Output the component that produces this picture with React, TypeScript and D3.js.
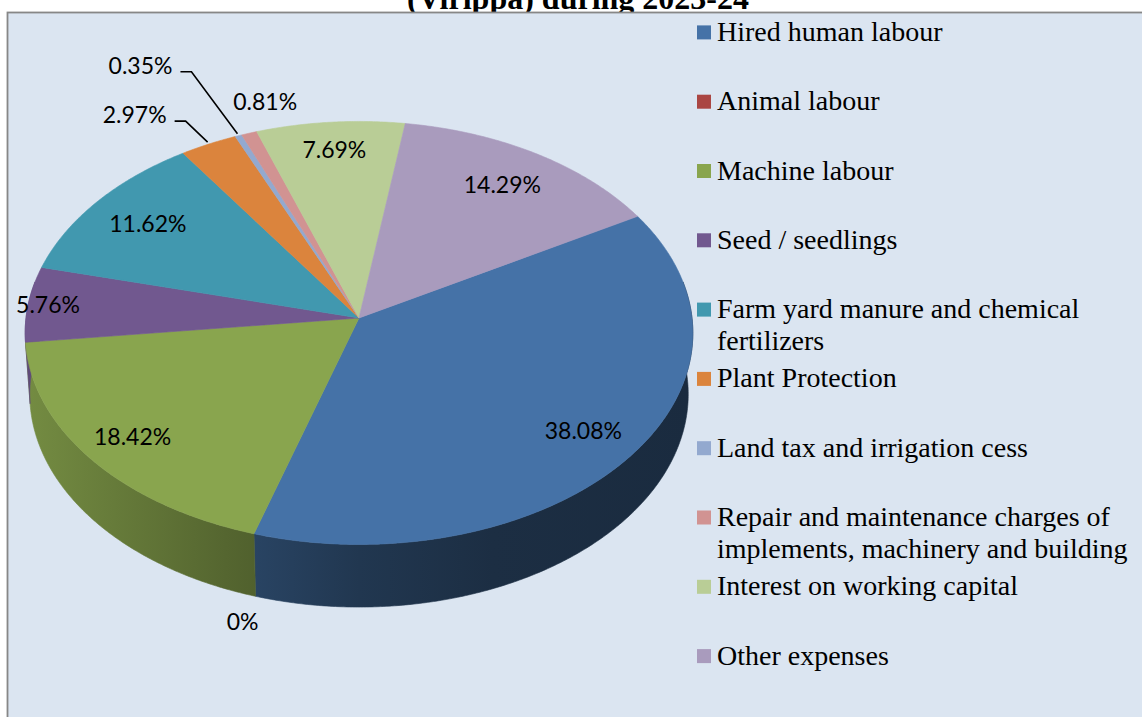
import React from 'react';
import * as d3 from 'd3';

// ---------- DATA ----------
const categories: string[] = [
  'Hired human labour',
  'Animal labour',
  'Machine labour',
  'Seed / seedlings',
  'Farm yard manure and chemical fertilizers',
  'Plant Protection',
  'Land tax and irrigation cess',
  'Repair and maintenance charges of implements, machinery and building',
  'Interest on working capital',
  'Other expenses',
];
const values: number[] = [38.08, 0, 18.42, 5.76, 11.62, 2.97, 0.35, 0.81, 7.69, 14.29];
const colors: string[] = [
  '#4572A7', '#AA4643', '#89A54E', '#71588F', '#4198AF',
  '#DB843D', '#93A9CF', '#D19392', '#B9CD96', '#A99BBD',
];
const titleText = '(Virippa) during 2023-24';

// ---------- LAYOUT / STYLE ----------
const W = 1142;
const H = 717;
const CX = 359;
const CY = 318;
const S = 333;
const SIN_A = 0.632;
const COS_A = 0.775;
const DIST = 10.96;
const DEPTH = 0.241;
const START = (60 * Math.PI) / 180;
const VIS0 = (80 * Math.PI) / 180;
const VIS1 = (280 * Math.PI) / 180;

// label placement: inside labels use a radius factor; outside ones use an offset from the rim
type LabelStyle =
  | { kind: 'in'; r: number }
  | { kind: 'out'; dx: number; dy: number; anchor: 'middle' | 'end'; leader?: boolean; bottom?: boolean };
const labelStyle: LabelStyle[] = [
  { kind: 'in', r: 0.83 },
  { kind: 'out', dx: -13, dy: 26, anchor: 'middle', bottom: true },
  { kind: 'in', r: 0.85 },
  { kind: 'in', r: 0.94 },
  { kind: 'in', r: 0.8 },
  { kind: 'out', dx: -42, dy: -29, anchor: 'end', leader: true },
  { kind: 'out', dx: -66, dy: -70, anchor: 'end', leader: true },
  { kind: 'out', dx: 16, dy: -31, anchor: 'middle' },
  { kind: 'in', r: 0.85 },
  { kind: 'in', r: 0.8 },
];

function project(theta: number, r: number, y: number): [number, number] {
  const X = r * Math.sin(theta);
  const Z = -r * Math.cos(theta);
  const v = Z * SIN_A - y * COS_A;
  const zc = Z * COS_A + y * SIN_A;
  const p = 1 / (1 - zc / DIST);
  return [CX + S * X * p, CY + S * v * p];
}

function arcPoints(a0: number, a1: number, y: number): [number, number][] {
  const n = Math.max(2, Math.ceil(Math.abs(a1 - a0) / 0.008));
  const pts: [number, number][] = [];
  for (let i = 0; i <= n; i++) {
    const t = a0 + ((a1 - a0) * i) / n;
    pts.push(project(t, 1, y));
  }
  return pts;
}

function shade(c: string, k: number): string {
  const rgb = d3.rgb(c);
  return d3.rgb(rgb.r * k, rgb.g * k, rgb.b * k).formatHex();
}

const fmt = (v: number) => (v === 0 ? '0%' : v.toFixed(2) + '%');

function wrapLines(text: string, maxW: number, font: string): string[] {
  let ctx: CanvasRenderingContext2D | null = null;
  try {
    ctx = document.createElement('canvas').getContext('2d');
  } catch (e) {
    ctx = null;
  }
  const measure = (s: string) => {
    if (ctx) {
      ctx.font = font;
      return ctx.measureText(s).width;
    }
    return s.length * 12.5;
  };
  const words = text.split(' ');
  const lines: string[] = [];
  let cur = '';
  for (const w of words) {
    const test = cur ? cur + ' ' + w : w;
    if (measure(test) > maxW && cur) {
      lines.push(cur);
      cur = w;
    } else cur = test;
  }
  if (cur) lines.push(cur);
  return lines;
}

export default function App() {
  const pie = d3
    .pie<number>()
    .sort(null)
    .value((d) => d)
    .startAngle(START)
    .endAngle(START + 2 * Math.PI);
  const arcs = pie(values);
  const line = d3.line();

  const walls = arcs
    .map((a, i) => {
      const a0 = Math.max(a.startAngle, VIS0);
      const a1 = Math.min(a.endAngle, VIS1);
      if (a1 <= a0) return null;
      const top = arcPoints(a0, a1, 0);
      const bot = arcPoints(a1, a0, -DEPTH);
      return { i, d: line([...top, ...bot])! + 'Z' };
    })
    .filter(Boolean) as { i: number; d: string }[];

  const tops = arcs.map((a, i) => {
    if (a.endAngle - a.startAngle <= 0) return null;
    const pts = [[CX, CY] as [number, number], ...arcPoints(a.startAngle, a.endAngle, 0)];
    return { i, d: line(pts)! + 'Z' };
  });

  const labelFont = "Lato, Carlito, Calibri, 'Open Sans', sans-serif";
  const labels = arcs.map((a, i) => {
    const st = labelStyle[i];
    const mid = (a.startAngle + a.endAngle) / 2;
    const text = fmt(values[i]);
    if (st.kind === 'in') {
      const [x, y] = project(mid, st.r, 0);
      return (
        <text key={'l' + i} x={x} y={y + 8} textAnchor="middle" fontFamily={labelFont} fontSize={23} fill="#000">
          {text}
        </text>
      );
    }
    const [ax, ay] = project(mid, 1, st.bottom ? -DEPTH : 0);
    const tx = ax + st.dx;
    const ty = ay + st.dy;
    let leader: React.ReactNode = null;
    if (st.leader) {
      const lx0 = tx + 8;
      const lx1 = tx + 19;
      const ly = ty + 6;
      leader = (
        <path
          d={`M${lx0},${ly}L${lx1},${ly}L${ax - 1},${ay - 2}`}
          fill="none"
          stroke="#000"
          strokeWidth={1.6}
        />
      );
    }
    return (
      <g key={'l' + i}>
        {leader}
        <text x={tx} y={ty + 8} textAnchor={st.anchor} fontFamily={labelFont} fontSize={23} fill="#000">
          {text}
        </text>
      </g>
    );
  });

  const legendFont = "'Liberation Serif', 'Times New Roman', serif";
  const legendItems = categories.map((c, i) => {
    const cy = 32.4 + 69.3 * i;
    const lines = wrapLines(c, 418, `28px 'Liberation Serif'`);
    return (
      <g key={'lg' + i}>
        <rect x={697} y={cy - 7} width={14} height={14} fill={colors[i]} />
        <text x={717} y={cy + 8.5} fontFamily={legendFont} fontSize={28} fill="#000">
          {lines.map((ln, j) => (
            <tspan key={j} x={717} dy={j === 0 ? 0 : 32}>
              {ln}
            </tspan>
          ))}
        </text>
      </g>
    );
  });

  return (
    <svg
      width={W}
      height={H}
      viewBox={`0 0 ${W} ${H}`}
      style={{ position: 'absolute', left: 0, top: 0, display: 'block', background: '#fff' }}
    >
      <defs>
        {colors.map((c, i) => (
          <linearGradient key={i} id={`side-${i}`} gradientUnits="userSpaceOnUse" x1={25} x2={693} y1={0} y2={0}>
            <stop offset="0" stopColor={shade(c, 0.85)} />
            <stop offset="0.3" stopColor={shade(c, 0.62)} />
            <stop offset="0.5" stopColor={shade(c, 0.48)} />
            <stop offset="0.7" stopColor={shade(c, 0.4)} />
            <stop offset="1" stopColor={shade(c, 0.38)} />
          </linearGradient>
        ))}
      </defs>
      <text
        x={578}
        y={9}
        textAnchor="middle"
        fontFamily={legendFont}
        fontWeight="bold"
        fontSize={32}
        fill="#000"
      >
        {titleText}
      </text>
      <rect x={7.5} y={12.5} width={W + 10} height={H + 10} fill="#dbe5f1" stroke="#878787" strokeWidth={1.8} />
      <g>
        {walls.map((w) => (
          <path key={'w' + w.i} d={w.d} fill={`url(#side-${w.i})`} stroke={`url(#side-${w.i})`} strokeWidth={0.6} />
        ))}
      </g>
      <g>
        {tops.map((t) =>
          t ? (
            <path key={'t' + t.i} d={t.d} fill={colors[t.i]} stroke={colors[t.i]} strokeWidth={0.6} strokeLinejoin="round" />
          ) : null
        )}
      </g>
      <g>{labels}</g>
      <g>{legendItems}</g>
    </svg>
  );
}
